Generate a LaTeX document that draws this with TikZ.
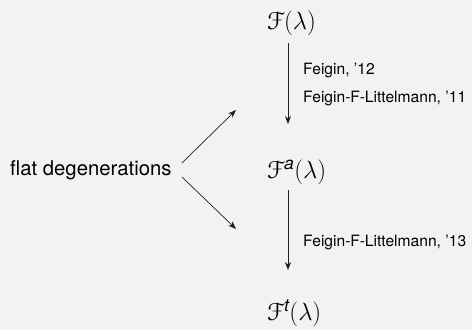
\documentclass[tikz,border=0pt]{standalone}
\usepackage{amsmath}
\usepackage[mathscr]{eucal}
\usepackage{fontspec}
\setmainfont{TeX Gyre Heros}
\usetikzlibrary{arrows.meta}
\definecolor{bg}{HTML}{F2F2F2}
\definecolor{ln}{HTML}{202020}
\begin{document}
\begin{tikzpicture}[x=1pt,y=-1pt,
  mathnode/.style={inner sep=0pt,anchor=west,font=\fontsize{25}{30}\selectfont},
  lbl/.style={inner sep=0pt,anchor=west,font=\fontsize{15.6}{18}\selectfont},
  main/.style={inner sep=0pt,anchor=west,font=\fontsize{20.3}{24}\selectfont},
  arr/.style={draw=ln,line width=0.7pt,-{Stealth[length=8pt,width=6pt]}}]
\fill[bg] (0,0) rectangle (472,330);
\useasboundingbox (0,0) rectangle (472,330);
\node[mathnode] (F) at (267,23) {$\mathscr{F}(\lambda)$};
\node[mathnode] (Fa) at (267,172) {$\mathscr{F}^{\textit{a}}(\lambda)$};
\node[mathnode] (Ft) at (267,313) {$\mathscr{F}^{\textit{t}}(\lambda)$};
\node[main] (fd) at (10,170) {flat degenerations};
\node[lbl] (l1) at (303,71) {Feigin, '12};
\node[lbl] (l2) at (303,99) {Feigin-F-Littelmann, '11};
\node[lbl] (l3) at (303,243) {Feigin-F-Littelmann, '13};
\coordinate (a1s) at (288,43);
\coordinate (a1e) at (288,124);
\coordinate (a2s) at (288,190);
\coordinate (a2e) at (288,270);
\coordinate (d1s) at (182,163);
\coordinate (d1e) at (236,110);
\coordinate (d2s) at (182,177);
\coordinate (d2e) at (236,229);
\draw[arr] (a1s) -- (a1e);
\draw[arr] (a2s) -- (a2e);
\draw[arr] (d1s) -- (d1e);
\draw[arr] (d2s) -- (d2e);
\end{tikzpicture}
\end{document}
